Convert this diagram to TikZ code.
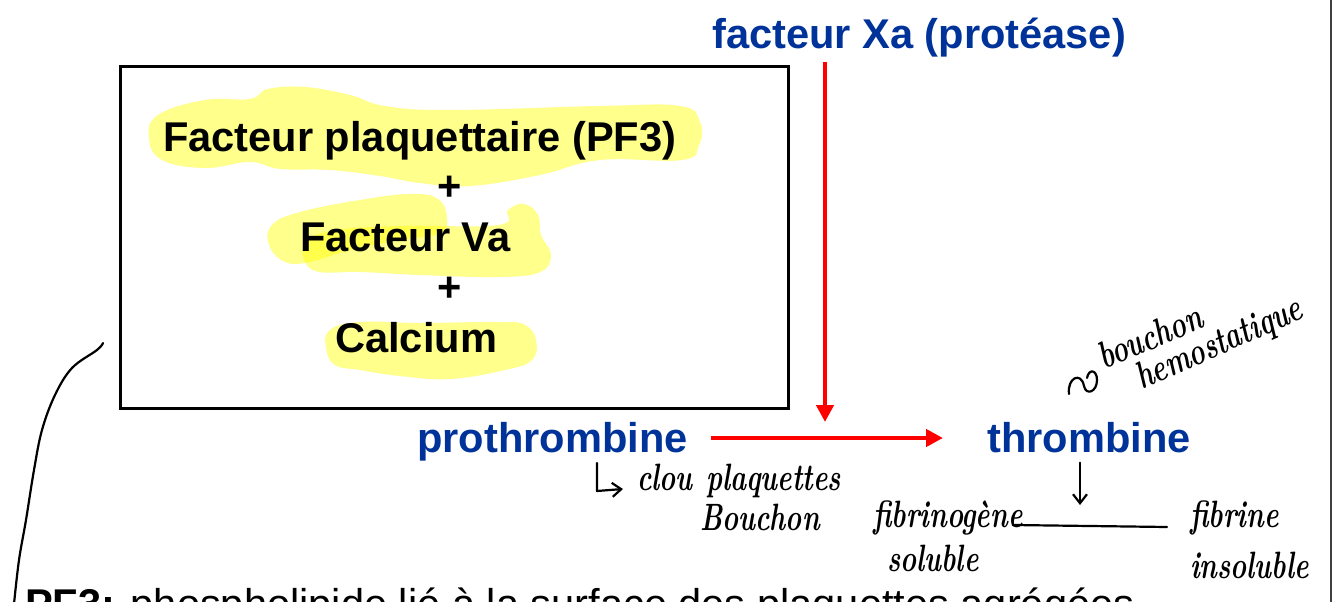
\documentclass[tikz,border=0pt]{standalone}
\usepackage{fontspec}
\newfontfamily\arial{Liberation Sans}
\usetikzlibrary{arrows.meta}
\definecolor{pblue}{RGB}{0,51,153}
\definecolor{hl}{RGB}{255,255,0}
\newcommand{\hw}[1]{\scalebox{0.8}[1.12]{#1}}
\begin{document}
\begin{tikzpicture}[x=1pt,y=-1pt,
  lbl/.style={inner sep=0pt, anchor=base west, font=\arial\bfseries\fontsize{41.6}{48}\selectfont},
  bluelbl/.style={lbl, text=pblue},
  hand/.style={inner sep=0pt, anchor=base west, font=\bfseries\itshape\fontsize{34}{40}\selectfont},
  handline/.style={line width=2.2pt, line cap=round, line join=round},
  handarrow/.style={handline, -{Straight Barb[length=9pt,width=14pt,line width=2.2pt]}},
  redarrow/.style={draw=red, line width=4.5pt, -{Triangle[length=17pt,width=17pt]}},
  hilite/.style={fill=hl, fill opacity=0.45, draw=none}
]
\useasboundingbox (0,0) rectangle (1334,602);
\clip (0,0) rectangle (1334,602);
\fill[white] (0,0) rectangle (1334,602);

% highlights
\fill[hilite] plot[smooth cycle, tension=0.7] coordinates {
 (158,115) (205,100) (250,99) (268,89) (305,87) (350,95) (385,106) (450,110) (600,106) (680,106) (700,122) (699,145) (682,160) (600,160) (540,175) (470,186) (420,183) (380,176) (330,170) (280,169) (250,162) (205,168) (162,160) (149,138)};
\fill[hilite] plot[smooth cycle, tension=0.7] coordinates {
 (272,225) (300,212) (360,200) (410,194) (438,199) (447,218) (440,233) (400,240) (350,250) (310,262) (285,262) (269,245)};
\fill[hilite] plot[smooth cycle, tension=0.7] coordinates {
 (305,245) (330,231) (400,226) (498,225) (508,210) (524,204) (538,215) (541,235) (551,255) (540,272) (500,277) (420,275) (360,272) (320,272) (305,262)};
\fill[hilite] plot[smooth cycle, tension=0.7] coordinates {
 (330,330) (360,322) (420,323) (500,322) (525,325) (536,340) (532,360) (505,370) (450,379) (400,376) (360,370) (335,365) (326,348)};

% box
\node[draw, line width=3pt, minimum width=668pt, minimum height=341pt, inner sep=0pt] (box) at (454,237.5) {};
\node[lbl] (pf3) at (163,151) {Facteur plaquettaire (PF3)};
\node[lbl] (plus1) at (437,200) {+};
\node[lbl] (fva) at (300,251) {Facteur Va};
\node[lbl] (plus2) at (437,301) {+};
\node[lbl] (ca) at (335,352) {Calcium};

% blue labels
\node[bluelbl] (xa) at (712,49) {facteur Xa (protéase)};
\node[bluelbl] (pro) at (417,452) {prothrombine};
\node[bluelbl] (thr) at (987,452) {thrombine};

% red arrows
\draw[redarrow] ([shift={(23,-14)}]pro.base east) -- ([shift={(-44,-14)}]thr.base west);
\coordinate (join) at (825,422);
\draw[redarrow] ([yshift=-4pt]xa.south -| join) -- (join);

% right edge line
\draw[line width=1.6pt, black!75] (1331,0) -- (1331,602);

% handwritten notes
\draw[handline] (1069,394) .. controls (1067,378) and (1081,371) .. (1084,386) .. controls (1086,396) and (1097,392) .. (1097,380) .. controls (1097,370) and (1089,368) .. (1087,378);
\node[hand, rotate=23] (bouchon) at (1104,370) {\hw{bouchon}};
\node[hand, rotate=24] (hemo) at (1142,390) {\hw{hemostatique}};

\coordinate (ls1) at (597,463);
\coordinate (ls2) at (597,491);
\draw[handarrow] (ls1) -- (ls2) -- (623,489);
\node[hand] (clou) at (637,490) {\hw{clou}};
\node[hand] (plaq) at (706,490) {\hw{plaquettes}};
\node[hand] (bouch2) at (700,530) {\hw{Bouchon}};

\coordinate (thrdown) at (1080,505);
\draw[handarrow] ([yshift=-10pt]thr.south -| thrdown) -- (thrdown);
\node[hand] (fg) at (873,527) {\hw{fibrinogène}};
\node[hand] (fgs) at (887,571) {\hw{soluble}};
\node[hand] (fb) at (1190,527) {\hw{fibrine}};
\node[hand] (fbs) at (1190,578) {\hw{insoluble}};
\draw[handline] ([shift={(-10,-2)}]fg.base east) -- ([shift={(-23,0)}]fb.base west);

% connector to definition
\coordinate (c1) at (103,343);
\coordinate (c2) at (14,604);
\draw[handline] plot[smooth, tension=0.6] coordinates {(c1) (97,350) (72,368) (55,395) (42,430) (34,470) (26,520) (19,560) (c2)};

% definition (cut off at bottom)
\node[lbl, font=\arial\fontsize{41.6}{48}\selectfont] (def) at (25,618) {{\bfseries PF3:} phospholipide lié à la surface des plaquettes agrégées};
\end{tikzpicture}
\end{document}
